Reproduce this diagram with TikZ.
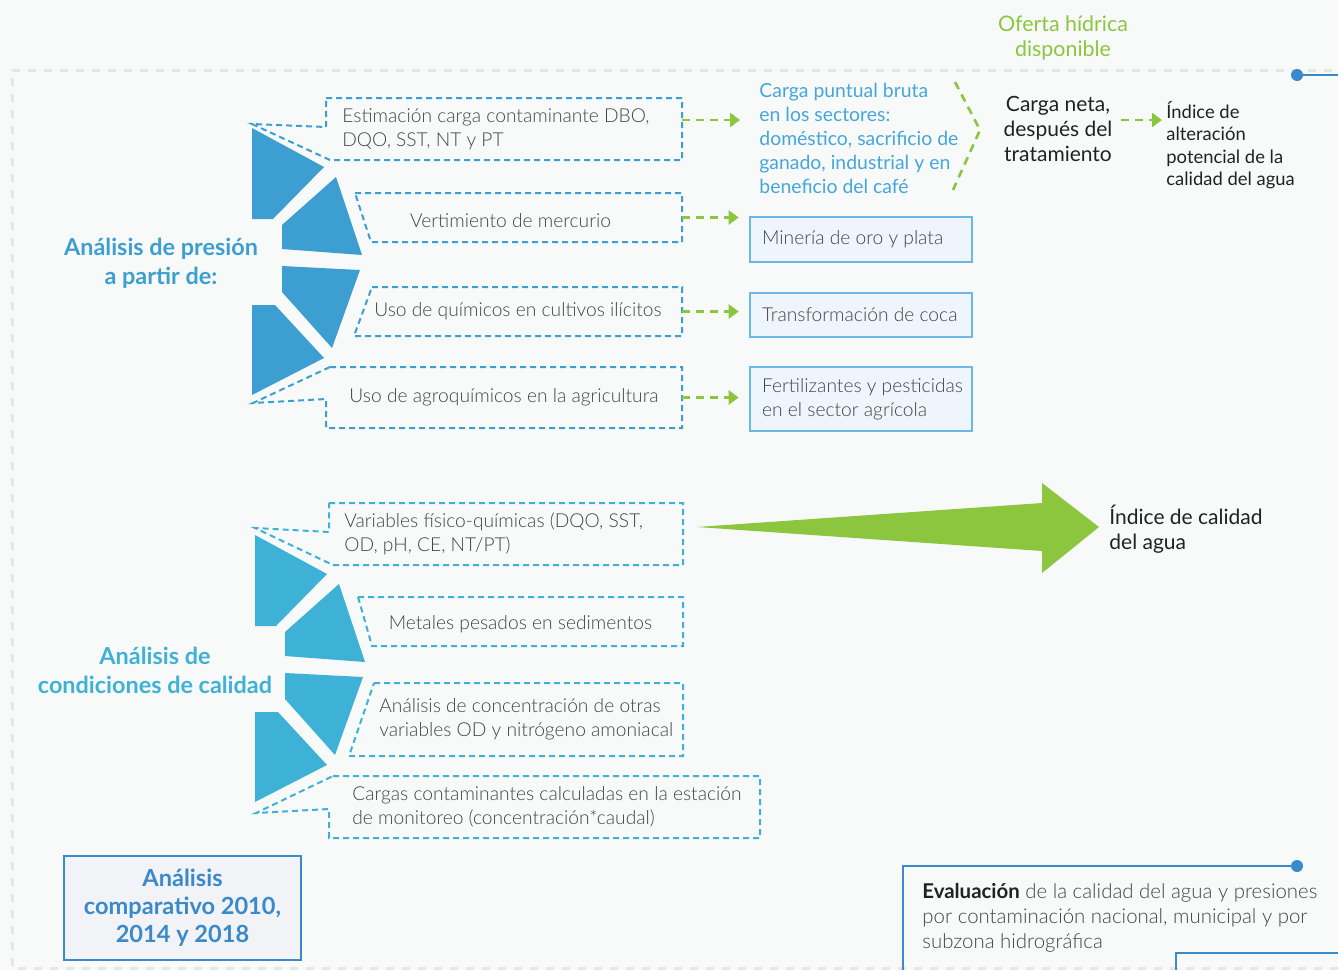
\documentclass[tikz,border=0pt]{standalone}
\usepackage{fontspec}
\setmainfont{Lato}
\newfontfamily\ligera{Lato Light}
\usetikzlibrary{arrows.meta, positioning, calc, fit}
\definecolor{fondo}{HTML}{F8FAFA}
\definecolor{presion}{HTML}{3D9FD1}
\definecolor{calidad}{HTML}{3EB1D6}
\definecolor{verde}{HTML}{8CC63F}
\definecolor{texto}{HTML}{444444}
\definecolor{oscuro}{HTML}{222222}
\definecolor{linea}{HTML}{3A8ACB}
\definecolor{marco}{HTML}{E4E7E8}
\definecolor{cajaborde}{HTML}{6DB7E6}
\definecolor{cajafondo}{HTML}{EEF5FC}
\definecolor{cargaazul}{HTML}{45A6DC}
\definecolor{grisclaro}{HTML}{F1F3F6}
\tikzset{
  region/.style={inner sep=0pt, outer sep=0pt},
  pline/.style={draw=presion, line width=1pt, dash pattern=on 3pt off 2pt},
  cline/.style={draw=calidad, line width=1pt, dash pattern=on 3pt off 2pt},
  txt/.style={font=\ligera\fontsize{9.6}{12}\selectfont, text=texto, align=left, inner sep=0pt},
  mbox/.style={rectangle, draw=cajaborde, fill=cajafondo, line width=1.3pt, inner sep=0pt},
  gdash/.style={verde, line width=1.3pt, dash pattern=on 4pt off 3pt},
  garrow/.style={gdash, -{Triangle[length=5pt, width=7pt]}},
  titulo/.style={font=\bfseries\fontsize{11.7}{14.5}\selectfont, align=center, inner sep=0pt},
  nota/.style={font=\fontsize{10.5}{12.5}\selectfont, text=oscuro, inner sep=0pt}
}
\begin{document}
\begin{tikzpicture}[x=0.5pt, y=-0.5pt]
  \useasboundingbox (0,0) rectangle (1338,970);
  \fill[fondo] (0,0) rectangle (1338,970);
  % marco
  \draw[marco, line width=1.5pt, dash pattern=on 4pt off 4pt]
    (1338,968) -- (12,968) -- (12,70) -- (1338,70);
  \draw[linea, line width=1.4pt] (1297,75) -- (1338,75);
  \fill[linea] (1297,75) circle (3pt);

  % abanicos
  \foreach \gx/\gy/\gc in {0/0/presion, 3/407/calidad}
    \fill[\gc, shift={(\gx,\gy)}]
      (252,128) -- (324,167) -- (273,219) -- (252,219) -- cycle
      (336,177) -- (362,255) -- (282,249) -- (282,225) -- cycle
      (282,266) -- (360,270) -- (332,348) -- (282,292) -- cycle
      (252,305) -- (275,305) -- (324,358) -- (252,395) -- cycle;

  \node[titulo, text=presion] (lp) at (161,263) {Análisis de presión\\a partir de:};
  \node[titulo, text=calidad] (lc) at (155,670) {Análisis de\\condiciones de calidad};

  % presiones
  \node[region, fit={(326,98) (682,160)}] (p1) {};
  \node[region, fit={(355,193) (682,242)}] (p2) {};
  \node[region, fit={(354,287) (682,336)}] (p3) {};
  \node[region, fit={(326,367) (682,428)}] (p4) {};
  \draw[pline] (p1.north west) -- (p1.north east) -- (p1.south east)
    -- ([xshift=2pt]p1.south west) -- (252,124) -- (326,127) -- cycle;
  \draw[pline] (p2.north west) -- (p2.north east) -- (p2.south east)
    -- ([xshift=8pt]p2.south west) -- cycle;
  \draw[pline] ([xshift=9pt]p3.north west) -- (p3.north east) -- (p3.south east)
    -- (p3.south west) -- cycle;
  \draw[pline] ([xshift=2pt]p4.north west) -- (p4.north east) -- (p4.south east)
    -- (p4.south west) -- (326,399) -- (253,403) -- cycle;
  \node[txt, anchor=west] (p1t) at ([xshift=8pt]p1.west) {Estimación carga contaminante DBO,\\DQO, SST, NT y PT};
  \node[txt] (p2t) at ([xshift=-4pt, yshift=-1.5pt]p2.center) {Vertimiento de mercurio};
  \node[txt] (p3t) at (p3.center) {Uso de químicos en cultivos ilícitos};
  \node[txt] (p4t) at (p4.center) {Uso de agroquímicos en la agricultura};

  % fuentes
  \node[txt, font=\fontsize{9.7}{12}\selectfont, text=cargaazul, anchor=west] (cp) at (759,138)
    {Carga puntual bruta\\en los sectores:\\doméstico, sacrificio de\\ganado, industrial y en\\beneficio del café};
  \node[mbox, fit={(750,217) (972,262)}] (m1) {};
  \node[mbox, fit={(750,293) (972,337)}] (m2) {};
  \node[mbox, fit={(750,367) (972,431)}] (m3) {};
  \node[txt, anchor=west] (m1t) at ([xshift=6.5pt]m1.west) {Minería de oro y plata};
  \node[txt, anchor=west] (m2t) at ([xshift=6.5pt]m2.west) {Transformación de coca};
  \node[txt, anchor=west] (m3t) at ([xshift=6.5pt]m3.west) {Fertilizantes y pesticidas\\en el sector agrícola};

  \coordinate (a1) at ($(p1.east)+(0,-9)$);
  \draw[garrow, shorten >=9.5pt] (a1) -- (a1 -| cp.west);
  \draw[garrow, shorten >=5pt] (p2.east) -- (p2.east -| m1.west);
  \draw[garrow, shorten >=5pt] (p3.east) -- (p3.east -| m2.west);
  \draw[garrow, shorten >=5pt] (p4.east) -- (p4.east -| m3.west);

  \draw[gdash] (955,82) -- (980,130) -- (953,190);
  \node[nota, font=\fontsize{10.7}{12.5}\selectfont, text=verde, align=center] (of) at (1063,38) {Oferta hídrica\\disponible};
  \node[nota, align=center] (cn) at (1058,129) {Carga neta,\\después del\\tratamiento};
  \node[nota, font=\fontsize{9.2}{11.2}\selectfont, align=left, anchor=west] (ia) at (1166,145)
    {Índice de\\alteración\\potencial de la\\calidad del agua};
  \coordinate (a5) at ($(cn.east)+(0,-9)$);
  \draw[garrow, shorten <=4pt, shorten >=2pt] (a5) -- (a5 -| ia.west);

  % calidad
  \node[region, fit={(329,503) (683,565)}] (q1) {};
  \node[region, fit={(358,597) (683,646)}] (q2) {};
  \node[region, fit={(349,683) (683,756)}] (q3) {};
  \node[region, fit={(329,776) (760,838)}] (q4) {};
  \draw[cline] (q1.north west) -- (q1.north east) -- (q1.south east)
    -- ([xshift=2pt]q1.south west) -- (255,528) -- (329,532) -- cycle;
  \draw[cline] (q2.north west) -- (q2.north east) -- (q2.south east)
    -- ([xshift=7pt]q2.south west) -- cycle;
  \draw[cline] ([xshift=12.5pt]q3.north west) -- (q3.north east) -- (q3.south east)
    -- (q3.south west) -- cycle;
  \draw[cline] ([xshift=2pt]q4.north west) -- (q4.north east) -- (q4.south east)
    -- (q4.south west) -- (329,809) -- (256,813) -- cycle;
  \node[txt, anchor=west] (q1t) at ([xshift=7.5pt]q1.west) {Variables físico-químicas (DQO, SST,\\OD, pH, CE, NT/PT)};
  \node[txt] (q2t) at ([yshift=-1.5pt]q2.center) {Metales pesados en sedimentos};
  \node[txt, anchor=west] (q3t) at ([xshift=15pt]q3.west) {Análisis de concentración de otras\\variables OD y nitrógeno amoniacal};
  \node[txt, anchor=west] (q4t) at ([xshift=11.5pt]q4.west) {Cargas contaminantes calculadas en la estación\\de monitoreo (concentración*caudal)};

  \node[nota, align=left, anchor=west] (ic) at (1109,529) {Índice de calidad\\del agua};
  \fill[verde] (697,527) -- (1042,503) -- (1042,483) -- (1099,527) -- (1042,573) -- (1042,551) -- cycle;

  % pie
  \node[rectangle, draw=linea, fill=grisclaro, line width=1.3pt, inner sep=0pt,
        fit={(64,856) (301,960)}] (ac) {};
  \node[titulo, font=\bfseries\fontsize{11.8}{14}\selectfont, text=linea] (act) at (ac.center)
    {Análisis\\comparativo 2010,\\2014 y 2018};
  \draw[linea, line width=1.4pt] (903,970) -- (903,866) -- (1297,866);
  \fill[linea] (1297,866) circle (3pt);
  \draw[linea, line width=1.4pt] (1176,970) -- (1176,953) -- (1338,953);
  \node[txt, font=\ligera\fontsize{10.2}{12.6}\selectfont, anchor=west] (ev) at (922,918)
    {\textcolor{oscuro}{\fontspec{Lato}\bfseries Evaluación} de la calidad del agua y presiones\\por contaminación nacional, municipal y por\\subzona hidrográfica};
\end{tikzpicture}
\end{document}
